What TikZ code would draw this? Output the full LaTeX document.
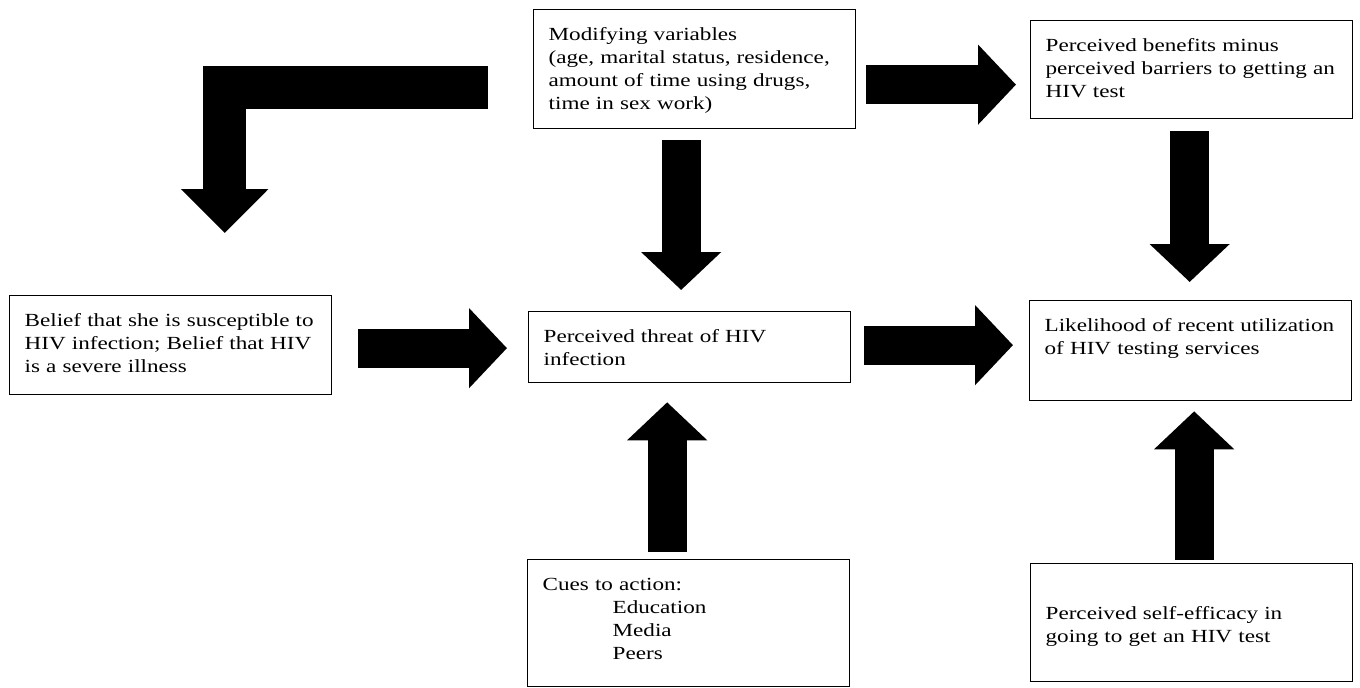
\documentclass[tikz,border=0pt]{standalone}
\usepackage{fontspec}
\setmainfont[FakeStretch=1.25]{Liberation Serif}
\usetikzlibrary{arrows.meta,calc}

\begin{document}
\begin{tikzpicture}[x=1pt,y=-1pt,font=\fontsize{18.5}{23}\selectfont,
  box/.style={rectangle,draw=black,line width=1.3pt,anchor=north west,align=left,inner xsep=15pt,inner ysep=14pt,text width=292pt,text height=17pt,text depth=#1},
  blockarrow/.style={draw=black,line width=39pt,-{Triangle[width=78pt,length=38pt]}}]
\useasboundingbox (0,0) rectangle (1360,688);
\node[box=74pt] (modvars) at (533,9) {Modifying variables\\(age, marital status, residence,\\amount of time using drugs,\\time in sex work)};
\node[box=53pt] (benefits) at (1030,20) {Perceived benefits minus\\perceived barriers to getting an\\HIV test};
\node[box=54pt] (belief) at (9,295) {Belief that she is susceptible to\\HIV infection; Belief that HIV\\is a severe illness};
\node[box=26pt] (threat) at (528,311) {Perceived threat of HIV\\infection};
\node[box=55pt] (likely) at (1029,300) {Likelihood of recent utilization\\of HIV testing services};
\node[box=82pt] (cues) at (527,559) {Cues to action:\\\hspace*{70pt}Education\\\hspace*{70pt}Media\\\hspace*{70pt}Peers};
\node[box=48pt,text height=42pt] (efficacy) at (1030,563) {Perceived self-efficacy in\\going to get an HIV test};
% block arrows
\draw[blockarrow,line width=43pt,-{Triangle[width=85pt,length=44pt]}] ($(modvars.west)+(-45,18.5)$) -| ($(belief.north)+(54,-62)$);
\draw[blockarrow] ($(modvars.south)+(-13.5,11)$) -- ($(threat.north)+(-8.5,-21)$);
\draw[blockarrow] ($(modvars.east)+(10,15.5)$) -- ($(benefits.west)+(-14,15)$);
\draw[blockarrow] ($(benefits.south)+(-2,12)$) -- ($(likely.north)+(-1,-18)$);
\draw[blockarrow] ($(belief.east)+(26,3)$) -- ($(threat.west)+(-21,1)$);
\draw[blockarrow] ($(threat.east)+(13,-2)$) -- ($(likely.west)+(-16,-5.5)$);
\draw[blockarrow] ($(cues.north)+(-21.5,-7)$) -- ($(threat.south)+(-22.5,19)$);
\draw[blockarrow] ($(efficacy.north)+(2.5,-3)$) -- ($(likely.south)+(3.5,10)$);
\end{tikzpicture}
\end{document}
